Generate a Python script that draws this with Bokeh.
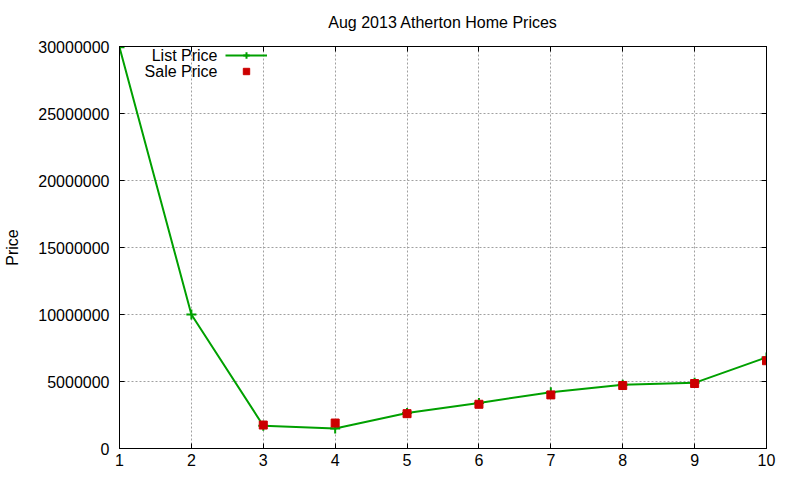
from bokeh.plotting import figure
from bokeh.models import (LinearAxis, FixedTicker, PrintfTickFormatter, Range1d,
                          Legend, LegendItem, Label, CustomJSTickFormatter)
from bokeh.embed import file_html
from bokeh.resources import INLINE

# ---- data ----
title_text = "Aug 2013 Atherton Home Prices"
y_label = "Price"
list_x = [1, 2, 3, 4, 5, 6, 7, 8, 9, 10]
list_price = [29950000, 10000000, 1700000, 1500000, 2650000, 3400000,
              4200000, 4750000, 4900000, 6800000]
sale_x = [3, 4, 5, 6, 7, 8, 9, 10]
sale_price = [1750000, 1900000, 2600000, 3300000, 4000000, 4700000,
              4850000, 6550000]
x_ticks = [1, 2, 3, 4, 5, 6, 7, 8, 9, 10]
y_ticks = [0, 5000000, 10000000, 15000000, 20000000, 25000000, 30000000]

FONT = "Liberation Sans"
GREEN = "#00a000"
RED = "#cc0000"

p = figure(width=784, height=472, output_backend="svg", toolbar_location=None,
           x_range=Range1d(1, 10), y_range=Range1d(0, 30000000),
           min_border_left=119, min_border_right=18, min_border_top=46,
           min_border_bottom=24, x_axis_location=None, y_axis_location=None)

p.outline_line_color = "black"
p.outline_line_width = 1
p.background_fill_color = "white"
p.border_fill_color = "white"


def mk_axis(ticks, show_labels, label=None):
    ax = LinearAxis(ticker=FixedTicker(ticks=ticks))
    ax.major_tick_in = 5
    ax.major_tick_out = 0
    ax.minor_tick_in = 0
    ax.minor_tick_out = 0
    ax.axis_line_color = "black"
    ax.major_tick_line_color = "black"
    ax.major_label_text_font = FONT
    ax.major_label_text_color = "black"
    ax.major_label_text_font_size = "16px"
    if show_labels:
        ax.formatter = PrintfTickFormatter(format="%d")
    else:
        ax.formatter = CustomJSTickFormatter(code="return ''")
        ax.major_label_standoff = 0
    if label:
        ax.axis_label = label
        ax.axis_label_text_font = FONT
        ax.axis_label_text_font_size = "16px"
        ax.axis_label_text_font_style = "normal"
        ax.axis_label_text_color = "black"
    return ax


xb = mk_axis(x_ticks, True)
xb.major_label_standoff = 5
yl = mk_axis(y_ticks, True, y_label)
yl.major_label_standoff = 10
yl.axis_label_standoff = 14
# top mirror axis carries the chart title, centred over the frame
xt = mk_axis(x_ticks, False, title_text)
xt.axis_label_standoff = 16
yr = mk_axis(y_ticks, False)
p.add_layout(xb, "below")
p.add_layout(yl, "left")
p.add_layout(xt, "above")
p.add_layout(yr, "right")

p.xgrid.ticker = FixedTicker(ticks=x_ticks)
p.ygrid.ticker = FixedTicker(ticks=y_ticks)
for g in (p.xgrid, p.ygrid):
    g.grid_line_color = "#a0a0a0"
    g.grid_line_dash = "2 2"
    g.grid_line_width = 1

ln = p.line(list_x, list_price, line_color=GREEN, line_width=2)
cr = p.scatter(list_x, list_price, marker="cross", size=10, line_color=GREEN,
               line_width=2)
sq = p.scatter(sale_x, sale_price, marker="square", size=8, fill_color=RED,
               line_color=RED)

leg = Legend(items=[LegendItem(label=" ", renderers=[ln, cr]),
                    LegendItem(label=" ", renderers=[sq])],
             location=(106, 369), padding=0, margin=0, spacing=0,
             glyph_width=42, glyph_height=16, label_width=0, label_height=16,
             label_standoff=0, label_text_font_size="1px",
             background_fill_alpha=0, border_line_alpha=0)
p.add_layout(leg, "center")

for i, name in enumerate(["List Price", "Sale Price"]):
    p.add_layout(Label(x=98, y=393 - 16 * i, x_units="screen", y_units="screen",
                       text=name, text_align="right", text_baseline="middle",
                       text_font=FONT, text_font_size="16px",
                       text_color="black"))

open("out.html", "w").write(file_html(p, INLINE))
